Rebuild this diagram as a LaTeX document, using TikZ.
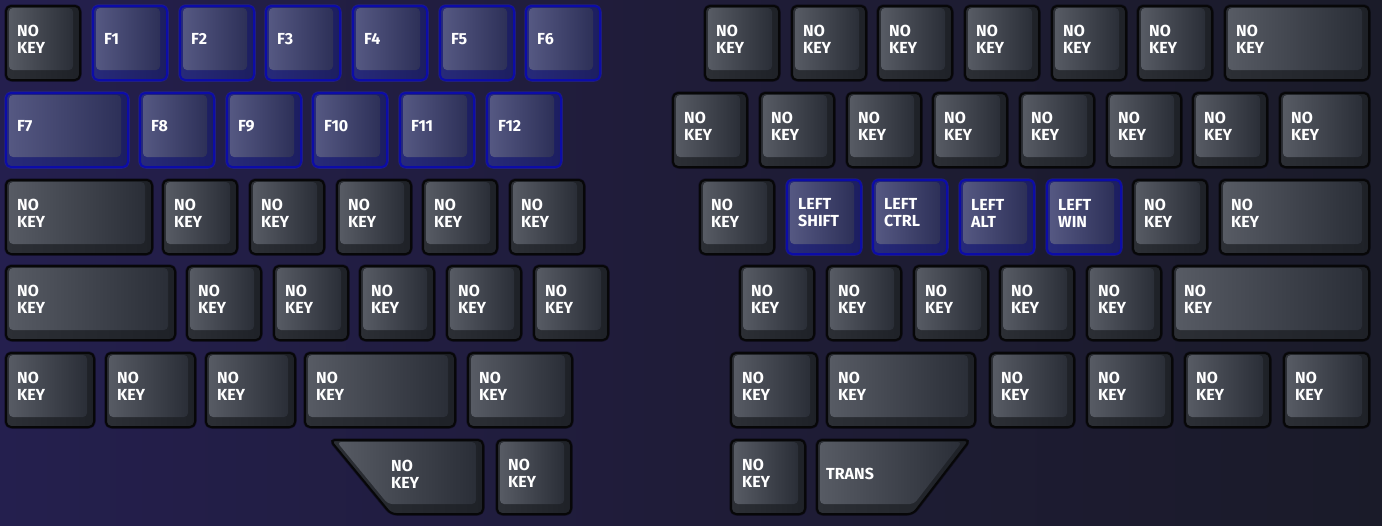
\documentclass[tikz,border=0pt]{standalone}
\usepackage{fontspec}
\setmainfont{Fira Sans}
\usetikzlibrary{calc}

\definecolor{bgl}{HTML}{241F4E}
\definecolor{bgm}{HTML}{1F1C38}
\definecolor{bgr}{HTML}{1A1B29}
% grey caps
\definecolor{gline}{HTML}{070708}
\definecolor{gglow}{HTML}{000000}
\definecolor{gbodyl}{HTML}{2C2F35}
\definecolor{gbodyr}{HTML}{1E2127}
\definecolor{glight}{HTML}{575B64}
\definecolor{gdark}{HTML}{2A2E37}
% blue caps
\definecolor{bline}{HTML}{0C0CA8}
\definecolor{bglow}{HTML}{2626D8}
\definecolor{bbodyl}{HTML}{272A7A}
\definecolor{bbodyr}{HTML}{1C1E60}
\definecolor{blight}{HTML}{555882}
\definecolor{bdark}{HTML}{2D3058}

\tikzset{
  keylabel/.style={anchor=west,inner sep=0pt,align=left,text=white,
    font=\fontsize{16}{17}\selectfont\bfseries},
  keyglow/.style={draw=#1glow,line width=3.5pt,draw opacity=0.4,rounded corners=6pt},
  keybody/.style={draw=#1line,line width=2pt,rounded corners=5pt,
    left color=#1bodyl,right color=#1bodyr},
  keyface/.style={rounded corners=4pt,left color=#1light,right color=#1dark}
}

% #1 colour set, #2 name, #3 x, #4 y, #5 width, #6 label
\newcommand{\keycap}[6]{%
  \draw[keyglow=#1] (#3,#4) rectangle ++(#5,74);
  \shadedraw[keybody=#1] (#3,#4) rectangle ++(#5,74);
  \shade[keyface=#1] (#3+3,#4+2) rectangle (#3+#5-7,#4+64);
  \node[keylabel] (#2) at (#3+11,#4+33) {#6};
}

\begin{document}
\begin{tikzpicture}[x=1pt,y=-1pt]
\useasboundingbox (0,0) rectangle (1382,525);
\shade[left color=bgl,right color=bgr,middle color=bgm] (0,0) rectangle (1382,525);

% left half
\keycap{g}{lA0}{6}{6}{74}{NO\\KEY}
\foreach \x [count=\i] in {93,180,266,353,440,526}{\keycap{b}{kF\i}{\x}{6}{74}{F\i}}
\keycap{b}{kF7}{6}{93}{122}{F7}
\foreach \x [count=\i from 8] in {140,227,313,400,487}{\keycap{b}{kF\i}{\x}{93}{74}{F\i}}
\keycap{g}{lC0}{6}{180}{146}{NO\\KEY}
\foreach \x [count=\i] in {163,250,337,423,510}{\keycap{g}{lC\i}{\x}{180}{74}{NO\\KEY}}
\keycap{g}{lD0}{6}{266}{169}{NO\\KEY}
\foreach \x [count=\i] in {187,274,360,447,534}{\keycap{g}{lD\i}{\x}{266}{74}{NO\\KEY}}
\foreach \x/\w [count=\i] in {6/88,106/89,206/89,305/150,468/104}{\keycap{g}{lE\i}{\x}{353}{\w}{NO\\KEY}}
\keycap{g}{lF2}{497}{440}{74}{NO\\KEY}
% left thumb
\draw[keyglow=g] (330,440) -- (483,440) -- (483,514) -- (391,514) -- cycle;
\shadedraw[keybody=g] (330,440) -- (483,440) -- (483,514) -- (391,514) -- cycle;
\shade[keyface=g] (337,442) -- (476,442) -- (476,504) -- (388,504) -- cycle;
\node[keylabel] (lF1) at (391,474) {NO\\KEY};

% right half
\foreach \x [count=\i] in {705,792,878,965,1052,1138}{\keycap{g}{rA\i}{\x}{6}{74}{NO\\KEY}}
\keycap{g}{rA7}{1225}{6}{144}{NO\\KEY}
\foreach \x [count=\i] in {673,760,847,933,1020,1107,1193}{\keycap{g}{rB\i}{\x}{93}{74}{NO\\KEY}}
\keycap{g}{rB8}{1280}{93}{89}{NO\\KEY}
\keycap{g}{rC1}{700}{180}{74}{NO\\KEY}
\foreach \x/\t in {787/SHIFT,873/CTRL,960/ALT,1047/WIN}{\keycap{b}{m\t}{\x}{180}{74}{LEFT\\\t}}
\keycap{g}{rC6}{1133}{180}{74}{NO\\KEY}
\keycap{g}{rC7}{1220}{180}{149}{NO\\KEY}
\foreach \x [count=\i] in {740,827,914,1000,1087}{\keycap{g}{rD\i}{\x}{266}{74}{NO\\KEY}}
\keycap{g}{rD6}{1173}{266}{196}{NO\\KEY}
\foreach \x/\w [count=\i] in {731/86,827/148,990/84,1087/85,1185/85,1284/85}{\keycap{g}{rE\i}{\x}{353}{\w}{NO\\KEY}}
\keycap{g}{rF1}{731}{440}{74}{NO\\KEY}
% right thumb
\draw[keyglow=g] (817,440) -- (970,440) -- (913,514) -- (817,514) -- cycle;
\shadedraw[keybody=g] (817,440) -- (970,440) -- (913,514) -- (817,514) -- cycle;
\shade[keyface=g] (820,442) -- (962,442) -- (914,504) -- (820,504) -- cycle;
\node[keylabel] (rF2) at (826,474) {TRANS};
\end{tikzpicture}
\end{document}
